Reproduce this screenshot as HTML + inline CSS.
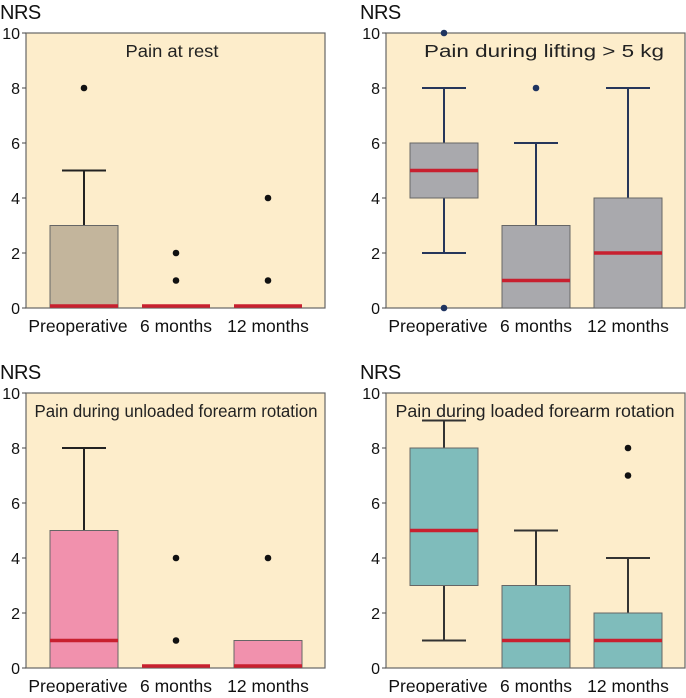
<!DOCTYPE html>
<html><head><meta charset="utf-8"><style>
body{margin:0;background:#fff;width:686px;height:693px;overflow:hidden;font-family:"Liberation Sans",Arial,sans-serif}
</style></head><body>
<svg id="c" width="686" height="693" xmlns="http://www.w3.org/2000/svg"></svg>
<script>
const categories=["Preoperative","6 months","12 months"];
const titles=["Pain at rest","Pain during lifting > 5 kg","Pain during unloaded forearm rotation","Pain during loaded forearm rotation"];
// each box: [whiskerLow, q1, median, q3, whiskerHigh]
const restBoxes=[[0,0,0,3,5],[0,0,0,0,0],[0,0,0,0,0]];
const restOutliers=[[8],[1,2],[1,4]];
const liftBoxes=[[2,4,5,6,8],[0,0,1,3,6],[0,0,2,4,8]];
const liftOutliers=[[0,10],[8],[]];
const unloadedBoxes=[[0,0,1,5,8],[0,0,0,0,0],[0,0,0,1,1]];
const unloadedOutliers=[[],[1,4],[4]];
const loadedBoxes=[[1,3,5,8,9],[0,0,1,3,5],[0,0,1,2,4]];
const loadedOutliers=[[],[],[7,8]];
const yTicks=[0,2,4,6,8,10];

const svg=document.getElementById('c');
const NS='http://www.w3.org/2000/svg';
function mk(tag,attrs,parent,text){const e=document.createElementNS(NS,tag);for(const k in attrs)e.setAttribute(k,attrs[k]);if(text!==undefined)e.textContent=text;parent.appendChild(e);return e;}
const panels=[
 {x:26,y:33,boxes:restBoxes,out:restOutliers,fill:"#c3b59c",line:"#222",dot:"#111",title:titles[0],tl:93,tc:172},
 {x:386,y:33,boxes:liftBoxes,out:liftOutliers,fill:"#a9a9ad",line:"#26365a",dot:"#1f3460",title:titles[1],tl:240,tc:544},
 {x:26,y:393,boxes:unloadedBoxes,out:unloadedOutliers,fill:"#f191ad",line:"#222",dot:"#111",title:titles[2],tl:283,tc:176},
 {x:386,y:393,boxes:loadedBoxes,out:loadedOutliers,fill:"#7fbcbb",line:"#333",dot:"#111",title:titles[3],tl:279,tc:535}
];
const W=299,H=275;
panels.forEach((p,pi)=>{
 const g=mk('g',{},svg);
 
 
 const ys=v=>p.y+H-v/10*H;
 const xs=i=>p.x+58+i*92;
 const bg=mk('rect',{x:p.x,y:p.y,width:W,height:H,fill:"#fdedcb",stroke:"#666","stroke-width":1.2},g);
 
 const yl=mk('text',{x:p.x-26,y:p.y-14,"font-size":20,fill:"#111","letter-spacing":"-0.5"},g,"NRS");
 
 yTicks.forEach(t=>{
  mk('line',{x1:p.x-4,x2:p.x,y1:ys(t),y2:ys(t),stroke:"#444"},g);
  const tl=mk('text',{x:p.x-6,y:ys(t)+6,"font-size":16,"text-anchor":"end",fill:"#111"},g,String(t));
  
 });
 const tt=mk('text',{x:p.tc,y:p.y+24,"font-size":17.5,"text-anchor":"middle",fill:"#222",textLength:p.tl,lengthAdjust:"spacingAndGlyphs"},g,p.title);
 
 categories.forEach((c,i)=>{
  const cl=mk('text',{x:xs(i)+(i==0?-6:0),y:p.y+H+24,"font-size":17.5,"text-anchor":"middle",fill:"#111"},g,c);
  
  const b=p.boxes[i],cx=xs(i);
  if(b[4]>b[3]){mk('line',{x1:cx,x2:cx,y1:ys(b[3]),y2:ys(b[4]),stroke:p.line,"stroke-width":2},g);
   mk('line',{x1:cx-22,x2:cx+22,y1:ys(b[4]),y2:ys(b[4]),stroke:p.line,"stroke-width":2},g);}
  if(b[1]>b[0]){mk('line',{x1:cx,x2:cx,y1:ys(b[0]),y2:ys(b[1]),stroke:p.line,"stroke-width":2},g);
   mk('line',{x1:cx-22,x2:cx+22,y1:ys(b[0]),y2:ys(b[0]),stroke:p.line,"stroke-width":2},g);}
  if(b[3]>b[1]){const r=mk('rect',{x:cx-34,y:ys(b[3]),width:68,height:ys(b[1])-ys(b[3]),fill:p.fill,stroke:"#666","stroke-width":1},g);
   }
  const my=Math.min(ys(b[2]),p.y+H-2);
  const m=mk('line',{x1:cx-34,x2:cx+34,y1:my,y2:my,stroke:"#c8202f","stroke-width":3.5},g);
  
  p.out[i].forEach(v=>{const d=mk('circle',{cx:cx,cy:ys(v),r:3.3,fill:p.dot},g);
   });
 });
});
</script>
</body></html>
